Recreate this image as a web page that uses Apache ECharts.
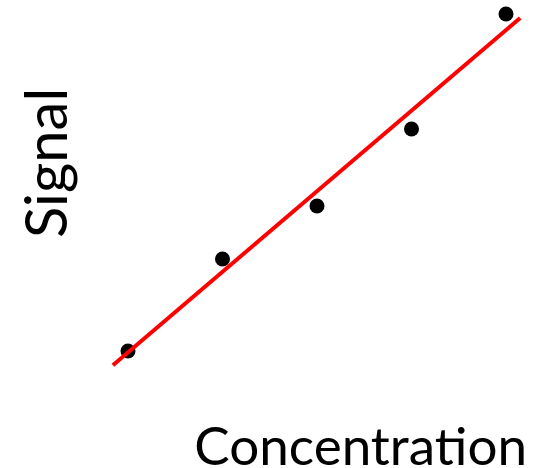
<!DOCTYPE html>
<html>
<head>
<meta charset="utf-8">
<script src="https://cdn.jsdelivr.net/npm/echarts@6/dist/echarts.min.js"></script>
<style>html,body{margin:0;padding:0;background:#fff}#c{width:549px;height:468px}</style>
</head>
<body>
<div id="c"></div>
<script>
const concentration = [1, 2, 3, 4, 5];
const signal = [1.225, 3.525, 4.85, 6.775, 9.65];
const fitX = [0.84, 5.15];
const fitY = [0.87, 9.55];
const xTitle = 'Concentra\u200Ction';
const yTitle = 'Signal';

const chart = echarts.init(document.getElementById('c'));
chart.setOption({
  animation: false,
  grid: { left: 80.75, right: 5.2, top: 0, bottom: 68 },
  xAxis: { type: 'value', min: 0.5, max: 5.4, show: false },
  yAxis: { type: 'value', min: 0, max: 10, show: false },
  series: [
    { type: 'scatter', data: concentration.map((x, i) => [x, signal[i]]),
      symbolSize: 15, itemStyle: { color: '#000', opacity: 1 }, z: 2 },
    { type: 'line', data: fitX.map((x, i) => [x, fitY[i]]),
      showSymbol: false, lineStyle: { color: '#ff0000', width: 4 }, z: 3 }
  ],
  graphic: [
    { type: 'text', right: 22, top: 421,
      style: { text: xTitle, font: '53px Lato', fill: '#000' } },
    { type: 'text', x: 48, y: 163, rotation: Math.PI / 2,
      style: { text: yTitle, font: '58px Lato', fill: '#000', align: 'center', verticalAlign: 'middle' } }
  ]
});
</script>
</body>
</html>
